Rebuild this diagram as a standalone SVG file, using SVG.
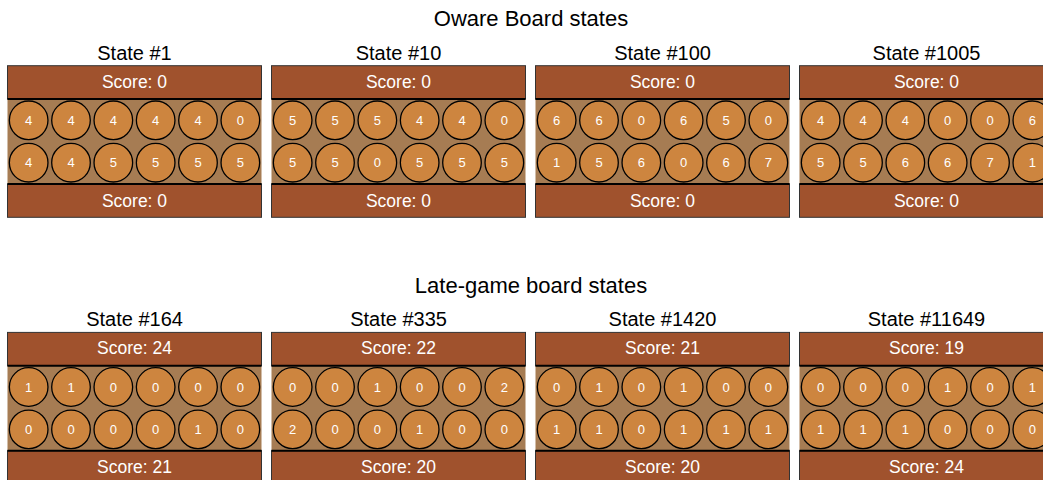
<svg xmlns="http://www.w3.org/2000/svg" width="1043" height="480" viewBox="0 0 1043 480">
<style>
text{font-family:"Liberation Sans",Arial,sans-serif}
.h{font-size:22px;fill:#000;text-anchor:middle}
.t{font-size:20px;fill:#000;text-anchor:middle}
.sc{fill:#A0522D;stroke:#333;stroke-width:1}
.pa{fill:#A67C53}
.ln{stroke:#000;stroke-width:2}
.s{font-size:17.5px;fill:#fff;text-anchor:middle}
.p circle{fill:#CD853F;stroke:#000;stroke-width:1.3}
.p text{font-size:13px;fill:#fff;text-anchor:middle}
</style>
<defs>
<g id="board">
<rect class="sc" x="0" y="0" width="254" height="33.3"/>
<rect class="pa" x="0" y="33.3" width="254" height="85"/>
<rect class="sc" x="0" y="118.3" width="254" height="33.3"/>
<line class="ln" x1="0" y1="33.3" x2="254" y2="33.3"/>
<line class="ln" x1="0" y1="118.3" x2="254" y2="118.3"/>
<g class="p">
<circle cx="21.17" cy="54.6" r="19.3"/><circle cx="63.5" cy="54.6" r="19.3"/><circle cx="105.83" cy="54.6" r="19.3"/><circle cx="148.17" cy="54.6" r="19.3"/><circle cx="190.5" cy="54.6" r="19.3"/><circle cx="232.83" cy="54.6" r="19.3"/>
<circle cx="21.17" cy="97" r="19.3"/><circle cx="63.5" cy="97" r="19.3"/><circle cx="105.83" cy="97" r="19.3"/><circle cx="148.17" cy="97" r="19.3"/><circle cx="190.5" cy="97" r="19.3"/><circle cx="232.83" cy="97" r="19.3"/>
</g>
</g>
</defs>
<text class="h" x="531" y="26">Oware Board states</text>
<text class="h" x="531" y="292.7">Late-game board states</text>

<g id="state-1" transform="translate(7.5,65.7)">
<text class="t" x="127" y="-6.2">State #1</text>
<use href="#board"/>
<text class="s" x="127" y="22">Score: 0</text>
<text class="s" x="127" y="141">Score: 0</text>
<g class="p">
<text x="21.17" y="59.2">4</text><text x="63.5" y="59.2">4</text><text x="105.83" y="59.2">4</text><text x="148.17" y="59.2">4</text><text x="190.5" y="59.2">4</text><text x="232.83" y="59.2">0</text>
<text x="21.17" y="101.6">4</text><text x="63.5" y="101.6">4</text><text x="105.83" y="101.6">5</text><text x="148.17" y="101.6">5</text><text x="190.5" y="101.6">5</text><text x="232.83" y="101.6">5</text>
</g>
</g>

<g id="state-10" transform="translate(271.5,65.7)">
<text class="t" x="127" y="-6.2">State #10</text>
<use href="#board"/>
<text class="s" x="127" y="22">Score: 0</text>
<text class="s" x="127" y="141">Score: 0</text>
<g class="p">
<text x="21.17" y="59.2">5</text><text x="63.5" y="59.2">5</text><text x="105.83" y="59.2">5</text><text x="148.17" y="59.2">4</text><text x="190.5" y="59.2">4</text><text x="232.83" y="59.2">0</text>
<text x="21.17" y="101.6">5</text><text x="63.5" y="101.6">5</text><text x="105.83" y="101.6">0</text><text x="148.17" y="101.6">5</text><text x="190.5" y="101.6">5</text><text x="232.83" y="101.6">5</text>
</g>
</g>

<g id="state-100" transform="translate(535.5,65.7)">
<text class="t" x="127" y="-6.2">State #100</text>
<use href="#board"/>
<text class="s" x="127" y="22">Score: 0</text>
<text class="s" x="127" y="141">Score: 0</text>
<g class="p">
<text x="21.17" y="59.2">6</text><text x="63.5" y="59.2">6</text><text x="105.83" y="59.2">0</text><text x="148.17" y="59.2">6</text><text x="190.5" y="59.2">5</text><text x="232.83" y="59.2">0</text>
<text x="21.17" y="101.6">1</text><text x="63.5" y="101.6">5</text><text x="105.83" y="101.6">6</text><text x="148.17" y="101.6">0</text><text x="190.5" y="101.6">6</text><text x="232.83" y="101.6">7</text>
</g>
</g>

<g id="state-1005" transform="translate(799.5,65.7)">
<text class="t" x="127" y="-6.2">State #1005</text>
<use href="#board"/>
<text class="s" x="127" y="22">Score: 0</text>
<text class="s" x="127" y="141">Score: 0</text>
<g class="p">
<text x="21.17" y="59.2">4</text><text x="63.5" y="59.2">4</text><text x="105.83" y="59.2">4</text><text x="148.17" y="59.2">0</text><text x="190.5" y="59.2">0</text><text x="232.83" y="59.2">6</text>
<text x="21.17" y="101.6">5</text><text x="63.5" y="101.6">5</text><text x="105.83" y="101.6">6</text><text x="148.17" y="101.6">6</text><text x="190.5" y="101.6">7</text><text x="232.83" y="101.6">1</text>
</g>
</g>

<g id="state-164" transform="translate(7.5,332.4)">
<text class="t" x="127" y="-6.2">State #164</text>
<use href="#board"/>
<text class="s" x="127" y="22">Score: 24</text>
<text class="s" x="127" y="141">Score: 21</text>
<g class="p">
<text x="21.17" y="59.2">1</text><text x="63.5" y="59.2">1</text><text x="105.83" y="59.2">0</text><text x="148.17" y="59.2">0</text><text x="190.5" y="59.2">0</text><text x="232.83" y="59.2">0</text>
<text x="21.17" y="101.6">0</text><text x="63.5" y="101.6">0</text><text x="105.83" y="101.6">0</text><text x="148.17" y="101.6">0</text><text x="190.5" y="101.6">1</text><text x="232.83" y="101.6">0</text>
</g>
</g>

<g id="state-335" transform="translate(271.5,332.4)">
<text class="t" x="127" y="-6.2">State #335</text>
<use href="#board"/>
<text class="s" x="127" y="22">Score: 22</text>
<text class="s" x="127" y="141">Score: 20</text>
<g class="p">
<text x="21.17" y="59.2">0</text><text x="63.5" y="59.2">0</text><text x="105.83" y="59.2">1</text><text x="148.17" y="59.2">0</text><text x="190.5" y="59.2">0</text><text x="232.83" y="59.2">2</text>
<text x="21.17" y="101.6">2</text><text x="63.5" y="101.6">0</text><text x="105.83" y="101.6">0</text><text x="148.17" y="101.6">1</text><text x="190.5" y="101.6">0</text><text x="232.83" y="101.6">0</text>
</g>
</g>

<g id="state-1420" transform="translate(535.5,332.4)">
<text class="t" x="127" y="-6.2">State #1420</text>
<use href="#board"/>
<text class="s" x="127" y="22">Score: 21</text>
<text class="s" x="127" y="141">Score: 20</text>
<g class="p">
<text x="21.17" y="59.2">0</text><text x="63.5" y="59.2">1</text><text x="105.83" y="59.2">0</text><text x="148.17" y="59.2">1</text><text x="190.5" y="59.2">0</text><text x="232.83" y="59.2">0</text>
<text x="21.17" y="101.6">1</text><text x="63.5" y="101.6">1</text><text x="105.83" y="101.6">0</text><text x="148.17" y="101.6">1</text><text x="190.5" y="101.6">1</text><text x="232.83" y="101.6">1</text>
</g>
</g>

<g id="state-11649" transform="translate(799.5,332.4)">
<text class="t" x="127" y="-6.2">State #11649</text>
<use href="#board"/>
<text class="s" x="127" y="22">Score: 19</text>
<text class="s" x="127" y="141">Score: 24</text>
<g class="p">
<text x="21.17" y="59.2">0</text><text x="63.5" y="59.2">0</text><text x="105.83" y="59.2">0</text><text x="148.17" y="59.2">1</text><text x="190.5" y="59.2">0</text><text x="232.83" y="59.2">1</text>
<text x="21.17" y="101.6">1</text><text x="63.5" y="101.6">1</text><text x="105.83" y="101.6">1</text><text x="148.17" y="101.6">0</text><text x="190.5" y="101.6">0</text><text x="232.83" y="101.6">0</text>
</g>
</g>
</svg>
